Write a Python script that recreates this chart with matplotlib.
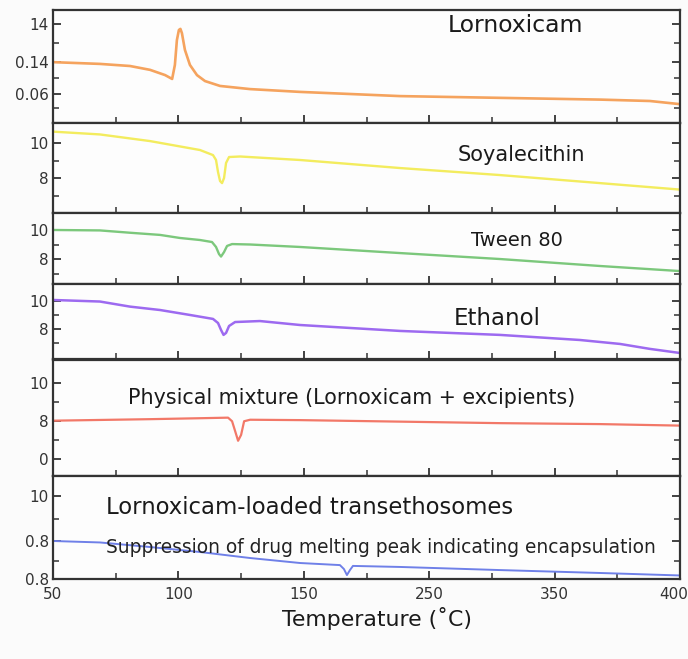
import matplotlib
matplotlib.use("Agg")
import matplotlib.pyplot as plt
from matplotlib.ticker import FixedLocator
from matplotlib.transforms import ScaledTranslation

plt.rcParams['font.family'] = ['DejaVu Sans']

# ---------------- data ----------------
x_ticks = [50, 100, 150, 200, 250, 300]
x_tick_labels = ["50", "100", "150", "250", "350", "400"]
x_minor = [75, 125, 175, 225, 275]

names = ["Lornoxicam", "Soyalecithin", "Tween 80", "Ethanol",
         "Physical mixture (Lornoxicam + excipients)",
         "Lornoxicam-loaded transethosomes"]
note = "Suppression of drug melting peak indicating encapsulation"
xlabel = "Temperature (˚C)"

lorn_x = [50, 68.7, 80.7, 88.7, 94.7, 97.5, 98.6, 99.4, 100.2, 100.8, 101.4, 102.6,
          104.6, 107.4, 110.6, 116.6, 128.6, 148.5, 188.4, 228.2, 268.1, 288.0, 300]
lorn_y = [1.91, 1.86, 1.80, 1.69, 1.54, 1.43, 1.83, 2.54, 2.83, 2.86, 2.74, 2.26,
          1.83, 1.54, 1.37, 1.23, 1.14, 1.06, 0.94, 0.89, 0.84, 0.80, 0.71]

soya_x = [50, 68.7, 88.7, 108.6, 113.8, 115.0, 115.8, 116.6, 117.4, 118.2, 119.0,
          120.2, 124.6, 148.5, 188.4, 228.2, 268.1, 300]
soya_y = [10.65, 10.49, 10.11, 9.60, 9.31, 9.03, 8.34, 7.83, 7.71, 8.00, 8.86,
          9.20, 9.23, 9.03, 8.57, 8.17, 7.71, 7.34]

tween_x = [50, 68.7, 80.7, 92.7, 100.6, 108.6, 113.4, 115.0, 116.2, 117.0, 118.2,
           119.4, 121.4, 128.6, 148.5, 188.4, 228.2, 268.1, 300]
tween_y = [10.00, 9.97, 9.81, 9.66, 9.45, 9.31, 9.17, 8.83, 8.34, 8.17, 8.48,
           8.90, 9.03, 9.00, 8.83, 8.41, 8.00, 7.52, 7.17]

eth_x = [50, 68.7, 80.7, 92.7, 104.6, 113.8, 115.8, 117.0, 118.0, 119.0, 120.2,
         122.6, 132.5, 148.5, 188.4, 228.2, 260.1, 276.1, 288.0, 300]
eth_y = [10.05, 9.94, 9.58, 9.34, 8.99, 8.71, 8.42, 7.93, 7.58, 7.72, 8.21,
         8.49, 8.56, 8.28, 7.86, 7.58, 7.22, 6.94, 6.59, 6.30]

mix_x = [50, 88.7, 108.6, 119.8, 121.4, 122.6, 123.8, 125.0, 126.2, 128.6,
         148.5, 188.4, 228.2, 268.1, 300]
mix_y = [8.01, 8.09, 8.14, 8.17, 7.98, 7.47, 6.95, 7.26, 7.98, 8.06,
         8.04, 7.96, 7.88, 7.83, 7.75]

tet_x = [50, 68.7, 88.7, 108.6, 128.6, 148.5, 164.4, 166.0, 167.2, 168.4, 169.6,
         188.4, 228.2, 268.1, 300]
tet_y = [7.83, 7.76, 7.54, 7.30, 7.01, 6.77, 6.67, 6.48, 6.19, 6.43, 6.63,
         6.58, 6.43, 6.29, 6.17]

series_x = [lorn_x, soya_x, tween_x, eth_x, mix_x, tet_x]
series_y = [lorn_y, soya_y, tween_y, eth_y, mix_y, tet_y]

# y tick positions / labels per panel
ytick_pos = [[1.0, 1.91, 3.0], [8, 10], [8, 10], [8, 10], [6, 8, 10], [6, 7.85, 10]]
ytick_lab = [["0.06", "0.14", "14"], ["8", "10"], ["8", "10"], ["8", "10"],
             ["0", "8", "10"], ["0.8", "0.8", "10"]]
ytick_minor = [[0.6, 1.46, 2.46], [7, 9], [7, 9], [7, 9], [7, 9], [6.85, 8.9]]
ylims = [(0.18, 3.4), (6.02, 11.16), (6.28, 11.19), (5.84, 11.18), (5.09, 11.24), (6.0, 10.96)]

# ---------------- style ----------------
colors = ["#f5a35e", "#f3ec5e", "#7cc87c", "#9d6af0", "#f27868", "#6f80e8"]
lws = [1.9, 1.7, 1.7, 1.8, 1.6, 1.4]
panel_px = [(10, 122.7), (122.7, 212.7), (212.7, 284), (284, 359.5), (359.5, 476), (476, 579)]
W, H = 688, 659
left_px, right_px = 53, 680

fig = plt.figure(figsize=(W / 100, H / 100), dpi=100)
fig.patch.set_facecolor("#fbfbfb")

label_specs = [  # (x data, y data, fontsize, ha)
    (234.6, 2.95, 16.9, "center"),
    (236.6, 9.3, 15.0, "center"),
    (235.0, 9.3, 14.0, "center"),
    (227.0, 8.75, 16.5, "center"),
    (79.9, 9.22, 14.9, "left"),
    (71.0, 9.42, 16.4, "left"),
]

axes = []
for i in range(6):
    top, bot = panel_px[i]
    ax = fig.add_axes([left_px / W, 1 - bot / H, (right_px - left_px) / W, (bot - top) / H])
    ax.set_facecolor("#fdfdfd")
    ax.plot(series_x[i], series_y[i], color=colors[i], lw=lws[i], solid_joinstyle="round")
    ax.set_xlim(50, 300)
    ax.set_ylim(*ylims[i])
    ax.xaxis.set_major_locator(FixedLocator(x_ticks))
    ax.xaxis.set_minor_locator(FixedLocator(x_minor))
    ax.yaxis.set_major_locator(FixedLocator(ytick_pos[i]))
    ax.yaxis.set_minor_locator(FixedLocator(ytick_minor[i]))
    ax.set_yticklabels(ytick_lab[i])
    ax.tick_params(axis="both", which="both", direction="in", left=True, right=True,
                   bottom=True, top=False, color="#333333")
    ax.tick_params(axis="both", which="major", length=6, width=1.3)
    ax.tick_params(axis="both", which="minor", length=4, width=1.1)
    ax.tick_params(axis="y", labelsize=11, labelcolor="#333333", pad=3)
    if i < 5:
        ax.tick_params(axis="x", labelbottom=False)
    else:
        ax.set_xticklabels(x_tick_labels)
        ax.tick_params(axis="x", labelsize=11, labelcolor="#333333", pad=6)
    for s in ax.spines.values():
        s.set_color("#333333")
        s.set_linewidth(1.6)
    tx, ty, fs, ha = label_specs[i]
    ax.text(tx, ty, names[i], fontsize=fs, ha=ha, va="center", color="#1a1a1a")
    axes.append(ax)

# keep the last x tick label inside the canvas
last = axes[5].get_xticklabels()[-1]
last.set_transform(last.get_transform() + ScaledTranslation(-6 / 100, 0, fig.dpi_scale_trans))

axes[5].text(71, 7.5, note, fontsize=13.4, ha="left", va="center", color="#222222")

fig.text(377 / W, 1 - 619 / H, xlabel, fontsize=15.8, ha="center",
         va="center", color="#1a1a1a")

fig.savefig("out.png", dpi=100, facecolor=fig.get_facecolor())
